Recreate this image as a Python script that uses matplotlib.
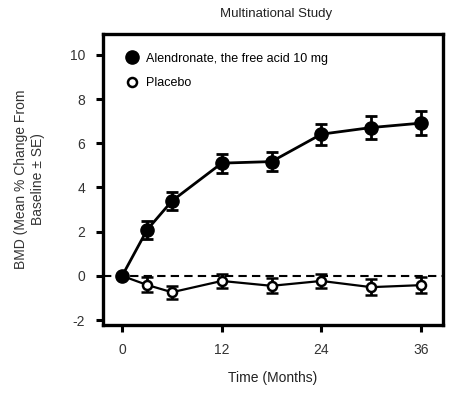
import matplotlib
matplotlib.use("Agg")
import matplotlib.pyplot as plt
from matplotlib.lines import Line2D

# data
months = [0, 3, 6, 12, 18, 24, 30, 36]
alen_mean = [0.0, 2.08, 3.39, 5.10, 5.17, 6.41, 6.71, 6.91]
alen_se = [0.0, 0.40, 0.40, 0.43, 0.44, 0.47, 0.51, 0.54]
plac_mean = [0.0, -0.41, -0.74, -0.23, -0.45, -0.23, -0.51, -0.42]
plac_se = [0.0, 0.34, 0.30, 0.30, 0.34, 0.32, 0.37, 0.35]

xticks = [0, 12, 24, 36]
yticks = [-2, 0, 2, 4, 6, 8, 10]

plt.rcParams["font.family"] = ["Liberation Sans Narrow", "Liberation Sans", "DejaVu Sans"]
plt.rcParams["font.size"] = 10
plt.rcParams["axes.unicode_minus"] = False

fig = plt.figure(figsize=(4.52, 3.98), dpi=100)
ax = fig.add_axes([0.228, 0.183, 0.752, 0.732])

ax.axhline(0, color="black", linestyle=(0, (4, 2.5)), linewidth=1.5, zorder=1)

ax.errorbar(months, plac_mean, yerr=plac_se, color="black", linewidth=1.6,
            marker="o", markersize=6.5, markerfacecolor="white",
            markeredgecolor="black", markeredgewidth=1.8, elinewidth=2.0,
            capsize=4, capthick=2.0, zorder=3)
ax.errorbar(months, alen_mean, yerr=alen_se, color="black", linewidth=2.0,
            marker="o", markersize=9.5, markerfacecolor="black",
            markeredgecolor="black", elinewidth=2.0, capsize=4, capthick=2.0,
            zorder=4)

ax.set_xlim(-2.3, 38.65)
ax.set_ylim(-2.23, 10.95)
ax.set_xticks(xticks)
ax.set_yticks(yticks)
ax.tick_params(direction="out", length=5, width=2.2, pad=8, labelsize=10,
               labelcolor="#333333")
for s in ax.spines.values():
    s.set_linewidth(2.4)

ax.set_xlabel("Time (Months)", fontsize=10, labelpad=10, color="#222222")
ax.set_ylabel("BMD (Mean % Change From\nBaseline \u00b1 SE)", fontsize=10,
              labelpad=18, color="#333333")
fig.text(0.61, 0.965, "Multinational Study", ha="center", va="center",
         fontsize=9.5, color="#222222")

# legend shows markers only
h_alen = Line2D([], [], linestyle="none", marker="o", markersize=9.5,
                markerfacecolor="black", markeredgecolor="black")
h_plac = Line2D([], [], linestyle="none", marker="o", markersize=6.5,
                markerfacecolor="white", markeredgecolor="black",
                markeredgewidth=1.8)
ax.legend([h_alen, h_plac], ["Alendronate, the free acid 10 mg", "Placebo"],
          loc="upper left", bbox_to_anchor=(0.044, 0.965), frameon=False,
          fontsize=9, handlelength=0.8, handletextpad=0.7, labelspacing=1.0,
          borderaxespad=0.3)

fig.savefig("out.png", dpi=100)
